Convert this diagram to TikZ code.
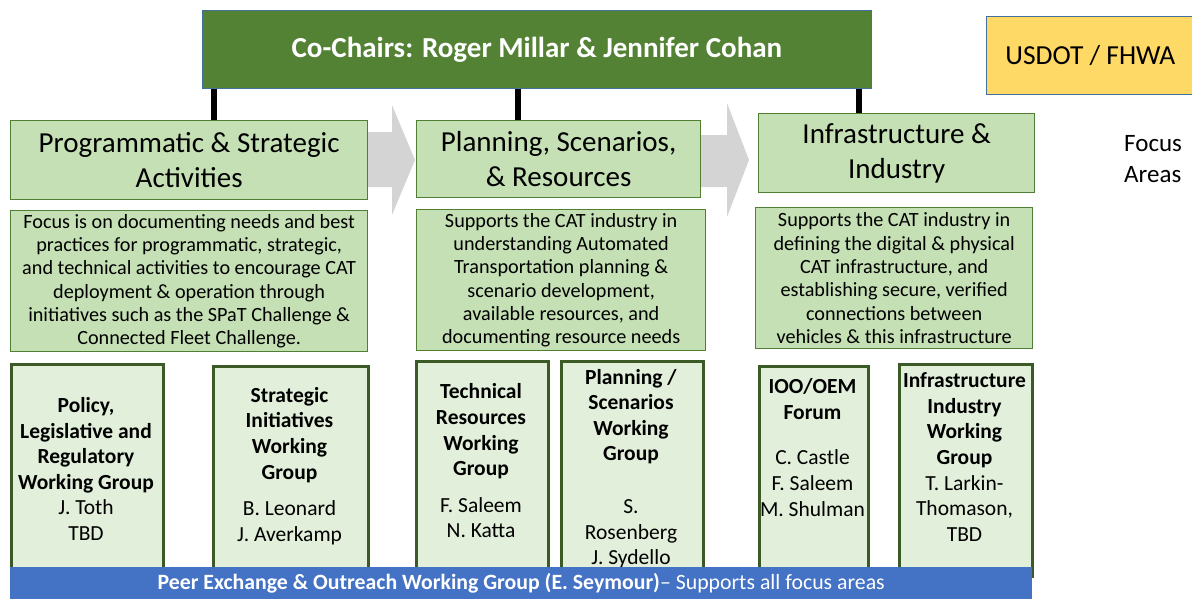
\documentclass[tikz,border=0pt]{standalone}
\usepackage{fontspec}
\setmainfont{Carlito}
\usepackage{tikz}
\usetikzlibrary{positioning}

\definecolor{chairgreen}{HTML}{548235}
\definecolor{areagreen}{HTML}{C5E0B4}
\definecolor{groupgreen}{HTML}{E2EFDA}
\definecolor{edgegreen}{HTML}{507E32}
\definecolor{groupedge}{HTML}{3B5A26}
\definecolor{peerblue}{HTML}{4472C4}
\definecolor{dotyellow}{HTML}{FFD966}
\definecolor{dotedge}{HTML}{41719C}

\tikzset{
  chairbox/.style={draw=dotedge, line width=0.8pt, fill=chairgreen, text=white, inner sep=0pt, font=\fontsize{29}{35}\selectfont\bfseries},
  dotbox/.style={draw=dotedge, line width=0.8pt, fill=dotyellow, inner sep=0pt, font=\fontsize{27.5}{33}\selectfont},
  areabox/.style={draw=edgegreen, line width=1.3pt, fill=areagreen, inner sep=0pt, align=center, font=\fontsize{29}{35}\selectfont},
  descbox/.style={draw=edgegreen, line width=1.3pt, fill=areagreen, inner sep=0pt, align=center, font=\fontsize{20.2}{23.3}\selectfont},
  groupbox/.style={draw=groupedge, line width=2.6pt, fill=groupgreen, inner sep=0pt},
  grouptext/.style={inner sep=0pt, align=center, font=\fontsize{21.5}{25.6}\selectfont},
  peerbar/.style={fill=peerblue, text=white, inner sep=0pt, font=\fontsize{21.8}{24}\selectfont},
  link/.style={line width=5.5pt},
  flow/.style={fill=black!17},
}

\begin{document}
\begin{tikzpicture}[x=1pt,y=-1pt]
\useasboundingbox (0,0) rectangle (1192,598);
\fill[flow] (300,132) -- (392,132) -- (392,105) -- (415,160) -- (392,215) -- (392,187) -- (300,187) -- cycle;
\fill[flow] (640,135) -- (727,135) -- (727,103) -- (749,160) -- (727,217) -- (727,187) -- (640,187) -- cycle;

\node[chairbox, minimum width=669pt, minimum height=78pt, anchor=north west] (chairs) at (202,10) {Co-Chairs: Roger Millar \& Jennifer Cohan};
\node[dotbox, minimum width=208pt, minimum height=78pt, anchor=north west] (dot) at (986,16) {USDOT / FHWA};
\node[inner sep=0pt, anchor=west, align=left, font=\fontsize{25}{31}\selectfont] (focus) at (1124,159) {Focus\\Areas};

\node[areabox, minimum width=357pt, minimum height=79pt, anchor=north west] (pa) at (10,120) {Programmatic \& Strategic\\Activities};
\node[areabox, minimum width=284pt, minimum height=77pt, anchor=north west] (pb) at (416,120) {Planning, Scenarios,\\\& Resources};
\node[areabox, minimum width=276pt, minimum height=79pt, anchor=north west] (pc) at (758,113) {Infrastructure \&\\Industry};

\node[descbox, minimum width=357pt, minimum height=141pt, anchor=north west] (da) at (10,210) {Focus is on documenting needs and best\\practices for programmatic, strategic,\\and technical activities to encourage CAT\\deployment \& operation through\\initiatives such as the SPaT Challenge \&\\Connected Fleet Challenge.};
\node[descbox, minimum width=289pt, minimum height=141pt, anchor=north west] (db) at (416,209) {Supports the CAT industry in\\understanding Automated\\Transportation planning \&\\scenario development,\\available resources, and\\documenting resource needs};
\node[descbox, minimum width=277pt, minimum height=141pt, anchor=north west] (dc) at (755,207) {Supports the CAT industry in\\defining the digital \& physical\\CAT infrastructure, and\\establishing secure, verified\\connections between\\vehicles \& this infrastructure};

\node[groupbox, minimum width=152pt, minimum height=212pt, anchor=north west] (gpol) at (10,363) {};
\node[groupbox, minimum width=155pt, minimum height=210pt, anchor=north west] (gstr) at (212,365) {};
\node[groupbox, minimum width=132pt, minimum height=215pt, anchor=north west] (gtec) at (415,360) {};
\node[groupbox, minimum width=142pt, minimum height=215pt, anchor=north west] (gpla) at (560,360) {};
\node[groupbox, minimum width=109pt, minimum height=210pt, anchor=north west] (gioo) at (758,365) {};
\node[groupbox, minimum width=133pt, minimum height=212pt, anchor=north west] (ginf) at (898,363) {};

\node[grouptext] (tpol) at (86,469) {\textbf{Policy,}\\\textbf{Legislative and}\\\textbf{Regulatory}\\\textbf{Working Group}\\J. Toth\\TBD};
\node[grouptext] (tstr) at (289.5,466) {\textbf{Strategic}\\\textbf{Initiatives}\\\textbf{Working}\\\textbf{Group}\\[11pt]B. Leonard\\J. Averkamp};
\node[grouptext] (ttec) at (481,461) {\textbf{Technical}\\\textbf{Resources}\\\textbf{Working}\\\textbf{Group}\\[11pt]F. Saleem\\N. Katta};
\node[grouptext] (tpla) at (631,468.5) {\textbf{Planning /}\\\textbf{Scenarios}\\\textbf{Working}\\\textbf{Group}\\[27pt]S.\\Rosenberg\\J. Sydello};
\node[grouptext] (tioo) at (812.5,447.5) {\textbf{IOO/OEM}\\\textbf{Forum}\\[20pt]C. Castle\\F. Saleem\\M. Shulman};
\node[grouptext] (tinf) at (964.5,457) {\textbf{Infrastructure}\\\textbf{Industry}\\\textbf{Working}\\\textbf{Group}\\T. Larkin-\\Thomason,\\TBD};

\node[peerbar, minimum width=1022pt, minimum height=33pt, anchor=north west] (peer) at (10,567) {\textbf{Peer Exchange \& Outreach Working Group (E. Seymour)}-- Supports all focus areas};

\coordinate (k1) at (214,0);
\coordinate (k2) at (518,0);
\coordinate (k3) at (859,0);
\draw[link] (k1 |- chairs.south) -- (k1 |- pa.north);
\draw[link] (k2 |- chairs.south) -- (k2 |- pb.north);
\draw[link] (k3 |- chairs.south) -- (k3 |- pc.north);
\end{tikzpicture}
\end{document}
